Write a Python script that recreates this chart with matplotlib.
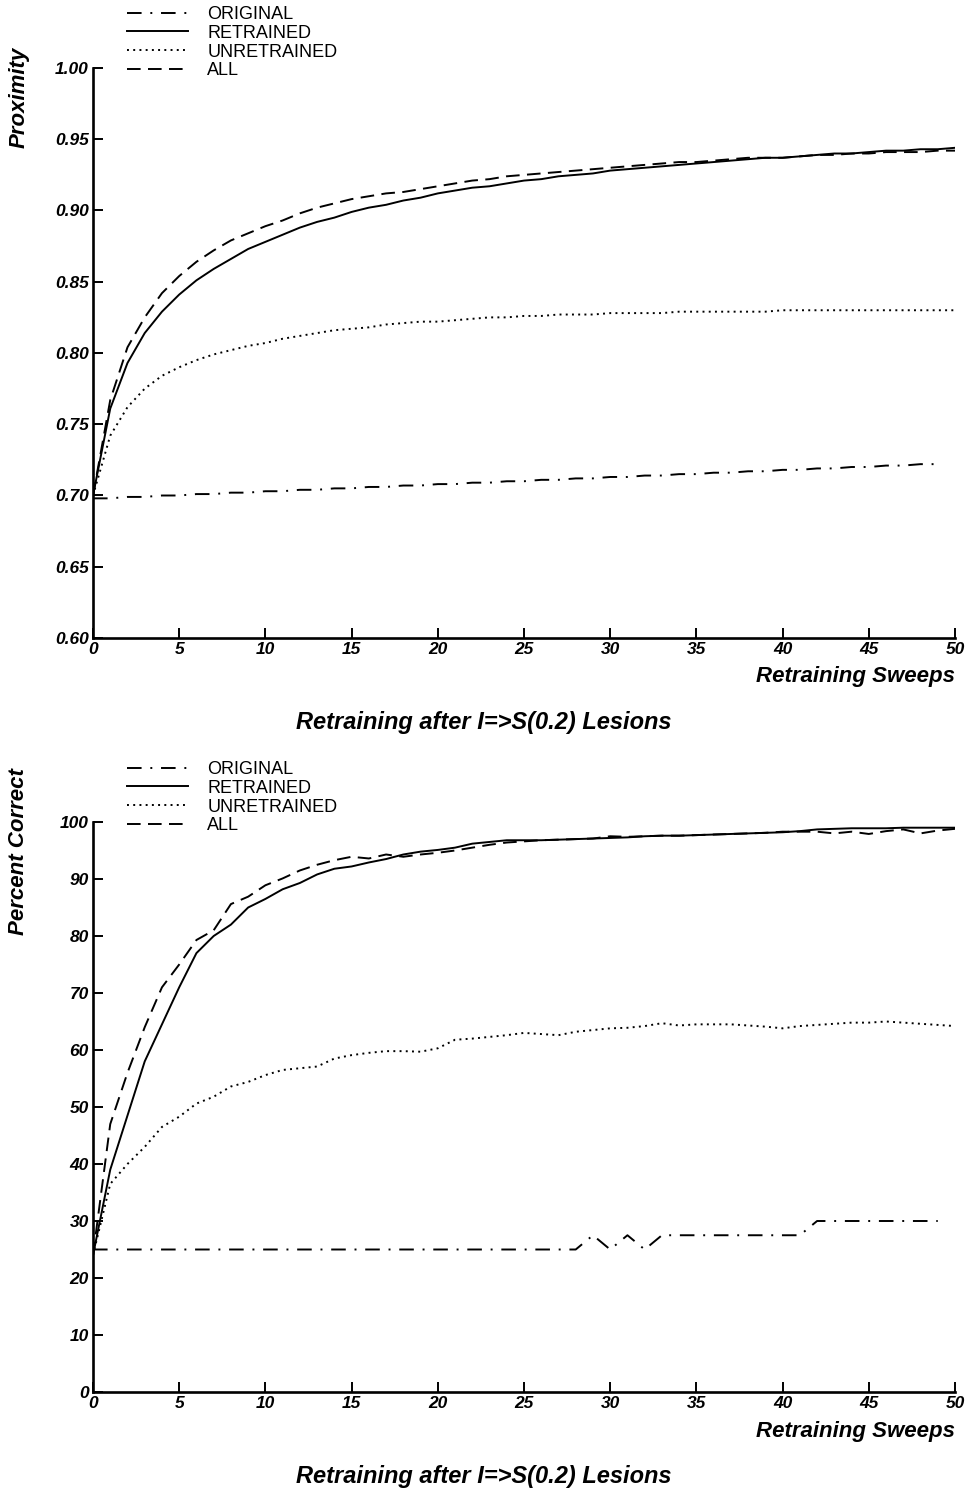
import matplotlib
matplotlib.use("Agg")
import matplotlib.pyplot as plt

# ---- data ---------------------------------------------------------------
sweeps = list(range(0, 51))
sweeps_orig = list(range(0, 50))

prox_original = [0.698, 0.698, 0.699, 0.699, 0.700, 0.700, 0.701, 0.701, 0.702, 0.702,
                 0.703, 0.703, 0.704, 0.704, 0.705, 0.705, 0.706, 0.706, 0.707, 0.707,
                 0.708, 0.708, 0.709, 0.709, 0.710, 0.710, 0.711, 0.711, 0.712, 0.712,
                 0.713, 0.713, 0.714, 0.714, 0.715, 0.715, 0.716, 0.716, 0.717, 0.717,
                 0.718, 0.718, 0.719, 0.719, 0.720, 0.720, 0.721, 0.721, 0.722, 0.722]
prox_retrained = [0.700, 0.761, 0.793, 0.814, 0.829, 0.841, 0.851, 0.859, 0.866, 0.873,
                  0.878, 0.883, 0.888, 0.892, 0.895, 0.899, 0.902, 0.904, 0.907, 0.909,
                  0.912, 0.914, 0.916, 0.917, 0.919, 0.921, 0.922, 0.924, 0.925, 0.926,
                  0.928, 0.929, 0.930, 0.931, 0.932, 0.933, 0.934, 0.935, 0.936, 0.937,
                  0.937, 0.938, 0.939, 0.940, 0.940, 0.941, 0.942, 0.942, 0.943, 0.943,
                  0.944]
prox_unretrained = [0.700, 0.742, 0.762, 0.775, 0.784, 0.790, 0.795, 0.799, 0.802, 0.805,
                    0.807, 0.810, 0.812, 0.814, 0.816, 0.817, 0.818, 0.820, 0.821, 0.822,
                    0.822, 0.823, 0.824, 0.825, 0.825, 0.826, 0.826, 0.827, 0.827, 0.827,
                    0.828, 0.828, 0.828, 0.828, 0.829, 0.829, 0.829, 0.829, 0.829, 0.829,
                    0.830, 0.830, 0.830, 0.830, 0.830, 0.830, 0.830, 0.830, 0.830, 0.830,
                    0.830]
prox_all = [0.700, 0.767, 0.804, 0.825, 0.842, 0.854, 0.864, 0.872, 0.879, 0.884,
            0.889, 0.893, 0.898, 0.902, 0.905, 0.908, 0.910, 0.912, 0.913, 0.915,
            0.917, 0.919, 0.921, 0.922, 0.924, 0.925, 0.926, 0.927, 0.928, 0.929,
            0.930, 0.931, 0.932, 0.933, 0.934, 0.934, 0.935, 0.936, 0.937, 0.937,
            0.937, 0.938, 0.939, 0.939, 0.940, 0.940, 0.941, 0.941, 0.941, 0.942,
            0.942]

pc_original = [25.0, 25.0, 25.0, 25.0, 25.0, 25.0, 25.0, 25.0, 25.0, 25.0,
               25.0, 25.0, 25.0, 25.0, 25.0, 25.0, 25.0, 25.0, 25.0, 25.0,
               25.0, 25.0, 25.0, 25.0, 25.0, 25.0, 25.0, 25.0, 25.0, 27.5,
               25.0, 27.5, 25.0, 27.5, 27.5, 27.5, 27.5, 27.5, 27.5, 27.5,
               27.5, 27.5, 30.0, 30.0, 30.0, 30.0, 30.0, 30.0, 30.0, 30.0]
pc_retrained = [24.0, 39.0, 48.5, 58.0, 64.5, 71.0, 77.0, 80.0, 82.0, 85.0,
                86.5, 88.2, 89.3, 90.8, 91.8, 92.2, 92.9, 93.5, 94.3, 94.8,
                95.1, 95.5, 96.2, 96.5, 96.8, 96.8, 96.8, 96.9, 97.0, 97.1,
                97.2, 97.3, 97.5, 97.6, 97.6, 97.7, 97.8, 97.9, 98.0, 98.1,
                98.2, 98.4, 98.7, 98.8, 98.9, 98.9, 98.9, 99.0, 99.0, 99.0,
                99.0]
pc_unretrained = [24.0, 36.5, 40.0, 43.0, 46.5, 48.3, 50.6, 51.8, 53.6, 54.4,
                  55.6, 56.5, 56.8, 57.1, 58.5, 59.1, 59.5, 59.8, 59.8, 59.7,
                  60.3, 61.8, 62.0, 62.3, 62.6, 63.0, 62.8, 62.6, 63.2, 63.5,
                  63.8, 63.9, 64.2, 64.7, 64.3, 64.5, 64.5, 64.5, 64.3, 64.1,
                  63.8, 64.2, 64.4, 64.6, 64.8, 64.8, 65.0, 64.8, 64.6, 64.4,
                  64.2]
pc_all = [24.0, 47.0, 56.0, 64.0, 71.0, 75.0, 79.3, 81.0, 85.6, 86.9,
          88.9, 90.1, 91.5, 92.5, 93.3, 93.9, 93.6, 94.3, 93.9, 94.3,
          94.6, 95.0, 95.5, 96.0, 96.4, 96.6, 96.8, 96.9, 97.0, 97.1,
          97.5, 97.4, 97.5, 97.6, 97.6, 97.7, 97.8, 97.9, 98.0, 98.1,
          98.3, 98.3, 98.3, 98.0, 98.3, 97.9, 98.4, 98.7, 98.0, 98.5,
          98.8]

series_names = ["ORIGINAL", "RETRAINED", "UNRETRAINED", "ALL"]
x_ticks = list(range(0, 51, 5))
prox_ticks = [0.60, 0.65, 0.70, 0.75, 0.80, 0.85, 0.90, 0.95, 1.00]
pc_ticks = list(range(0, 101, 10))

# ---- styling ------------------------------------------------------------
plt.rcParams["font.family"] = ["Liberation Sans", "DejaVu Sans"]
LW = 1.4
styles = {
    "ORIGINAL": (0, (7.5, 4.5, 1.0, 4.5)),
    "RETRAINED": "-",
    "UNRETRAINED": (0, (1.0, 2.2)),
    "ALL": (0, (7.0, 3.8)),
}
bold_it = dict(fontweight="bold", fontstyle="italic")
LABEL_SIZE = 16
TITLE_SIZE = 17

W, H = 972, 1492
fig = plt.figure(figsize=(W / 100, H / 100), dpi=100)


def make_axes(top_px, bottom_px):
    left_px, right_px = 93, 955
    return fig.add_axes([left_px / W, 1 - bottom_px / H,
                         (right_px - left_px) / W, (bottom_px - top_px) / H])


def draw_series(ax, xs_orig, orig, xs, retr, unretr, allv):
    for name, xv, yv in zip(series_names,
                            [xs_orig, xs, xs, xs],
                            [orig, retr, unretr, allv]):
        ax.plot(xv, yv, color="black", lw=LW, ls=styles[name], label=name)


def style_axes(ax, ylabel, yticks, yfmt, ylim, legend_top_px, xlab_y, title_y):
    ax.set_xlim(0, 50)
    ax.set_ylim(*ylim)
    for side in ("top", "right"):
        ax.spines[side].set_visible(False)
    for side in ("left", "bottom"):
        ax.spines[side].set_linewidth(1.9)
    ax.set_xticks(x_ticks)
    ax.set_yticks(yticks)
    ax.set_yticklabels([yfmt.format(v) for v in yticks])
    ax.tick_params(direction="in", length=7, width=1.4, labelsize=12.5, pad=3)
    for lbl in ax.get_xticklabels() + ax.get_yticklabels():
        lbl.set_fontweight("bold")
        lbl.set_fontstyle("italic")
    ax.set_ylabel(ylabel, fontsize=LABEL_SIZE, va="center", ha="center", **bold_it)
    ax.yaxis.set_label_coords(-0.086, 0.948)
    ax.text(1.0, xlab_y, "Retraining Sweeps", transform=ax.transAxes,
            ha="right", va="center", fontsize=LABEL_SIZE, **bold_it)
    ax.text(0.4536, title_y, "Retraining after I=>S(0.2) Lesions",
            transform=ax.transAxes, ha="center", va="center",
            fontsize=TITLE_SIZE, **bold_it)
    ax.legend(loc="upper left", bbox_to_anchor=(127 / W, 1 - legend_top_px / H),
              bbox_transform=fig.transFigure, frameon=False, fontsize=13,
              handlelength=3.4, handletextpad=1.05, labelspacing=0.1,
              borderpad=0.0, borderaxespad=0.0)


# ---- top panel: proximity ----------------------------------------------
ax1 = make_axes(68, 638)
draw_series(ax1, sweeps_orig, prox_original, sweeps,
            prox_retrained, prox_unretrained, prox_all)
style_axes(ax1, "Proximity", prox_ticks, "{:.2f}", (0.60, 1.00), 6, -0.068, -0.148)

# ---- bottom panel: percent correct -------------------------------------
ax2 = make_axes(822, 1392)
draw_series(ax2, sweeps_orig, pc_original, sweeps,
            pc_retrained, pc_unretrained, pc_all)
style_axes(ax2, "Percent Correct", pc_ticks, "{:d}", (0, 100), 761, -0.070, -0.149)

fig.savefig("out.png", dpi=100)
